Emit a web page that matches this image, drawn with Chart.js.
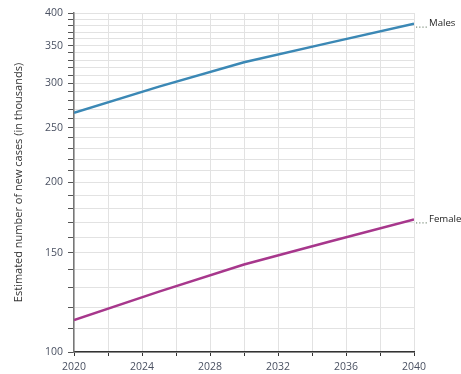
<!DOCTYPE html>
<html>
<head>
<meta charset="utf-8">
<script src="https://cdn.jsdelivr.net/npm/chart.js@4/dist/chart.umd.min.js"></script>
<style>
  html, body { margin: 0; padding: 0; background: #ffffff; }
  #wrap { width: 461px; height: 374px; position: relative; }
</style>
</head>
<body>
<div id="wrap"><canvas id="c" width="461" height="374"></canvas></div>
<script>
// Projected new cases (thousands), 2020–2040
const years = [2020, 2025, 2030, 2035, 2040];
const males = [266, 296, 327, 354, 383];
const females = [114, 128, 143, 157, 172];
const seriesNames = ['Males', 'Female'];
const seriesColors = ['#3b88b5', '#a7378c'];

// Axis ticks
const yLabelValues = [100, 150, 200, 250, 300, 350, 400];
const yMinorStep = 10;
const xLabelStep = 4;
const xTickStep = 2;

const FONT = '"Open Sans", "Noto Sans", sans-serif';

// Series names written at the end of each line, with a dotted leader
const endLabels = {
  id: 'endLabels',
  afterDatasetsDraw(chart) {
    const ctx = chart.ctx;
    ctx.save();
    chart.data.datasets.forEach((ds, i) => {
      const meta = chart.getDatasetMeta(i);
      const pt = meta.data[meta.data.length - 1];
      if (!pt) return;
      const x = pt.x, y = pt.y;
      ctx.strokeStyle = '#7f917f';
      ctx.lineWidth = 1.2;
      ctx.setLineDash([1.2, 2]);
      ctx.beginPath();
      ctx.moveTo(x + 2, y + 3.5);
      ctx.lineTo(x + 14, y + 3.5);
      ctx.stroke();
      ctx.setLineDash([]);
      ctx.fillStyle = '#1e1e1e';
      ctx.font = '9.6px ' + FONT;
      ctx.textBaseline = 'middle';
      ctx.textAlign = 'left';
      ctx.fillText(ds.label, x + 15, y);
    });
    ctx.restore();
  }
};

new Chart(document.getElementById('c'), {
  type: 'line',
  data: {
    datasets: [
      {
        label: seriesNames[0],
        data: years.map((yr, i) => ({ x: yr, y: males[i] })),
        borderColor: seriesColors[0],
        borderWidth: 2.5,
        pointRadius: 0,
        tension: 0
      },
      {
        label: seriesNames[1],
        data: years.map((yr, i) => ({ x: yr, y: females[i] })),
        borderColor: seriesColors[1],
        borderWidth: 2.5,
        pointRadius: 0,
        tension: 0
      }
    ]
  },
  options: {
    responsive: false,
    animation: false,
    layout: { padding: { top: 13, right: 47, left: 0, bottom: 0 } },
    plugins: {
      legend: { display: false },
      tooltip: { enabled: false }
    },
    scales: {
      x: {
        type: 'linear',
        min: 2020,
        max: 2040,
        afterBuildTicks(scale) {
          const t = [];
          for (let v = 2020; v <= 2040; v += xTickStep) t.push({ value: v });
          scale.ticks = t;
        },
        afterFit(scale) { scale.height = 22; },
        ticks: {
          autoSkip: false,
          maxRotation: 0,
          padding: 5,
          color: '#4a5162',
          font: { family: FONT, size: 10.5 },
          callback: (v) => ((v - 2020) % xLabelStep === 0 ? String(v) : '')
        },
        grid: {
          color: '#e2e2e2',
          lineWidth: 1,
          tickLength: 4,
          tickColor: '#333333'
        },
        border: { color: '#333333', width: 1.5 }
      },
      y: {
        type: 'logarithmic',
        min: 100,
        max: 400,
        afterBuildTicks(scale) {
          const t = [];
          for (let v = 100; v <= 400; v += yMinorStep) t.push({ value: v });
          scale.ticks = t;
        },
        afterFit(scale) { scale.width = 74; },
        ticks: {
          autoSkip: false,
          padding: 5,
          color: '#4a5162',
          font: { family: FONT, size: 10.5 },
          callback: (v) => (yLabelValues.includes(v) ? String(v) : '')
        },
        grid: {
          color: '#e2e2e2',
          lineWidth: 1,
          tickLength: 6,
          tickColor: '#555555'
        },
        border: { color: '#777777', width: 1.5 },
        title: {
          display: true,
          text: 'Estimated number of new cases (in thousands)',
          color: '#333333',
          font: { family: FONT, size: 11 },
          padding: { top: 12, bottom: 4 }
        }
      }
    }
  },
  plugins: [endLabels]
});
</script>
</body>
</html>
